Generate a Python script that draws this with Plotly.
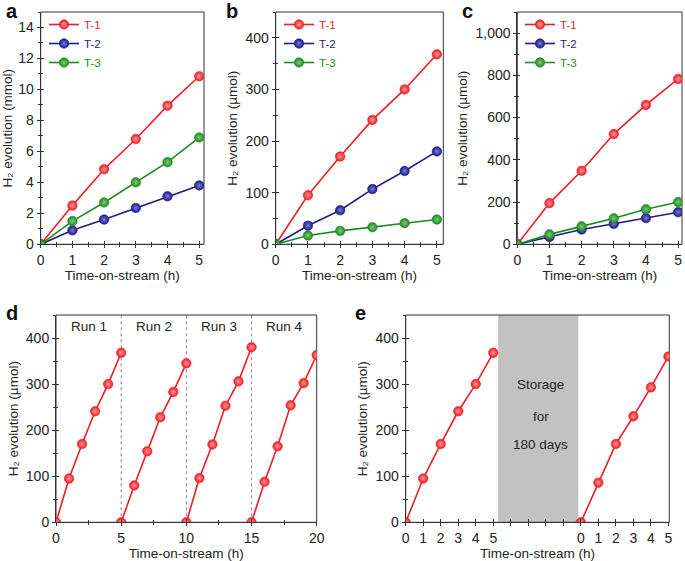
import plotly.graph_objects as go

# ---------------- data ----------------
hours = [0, 1, 2, 3, 4, 5]
series_names = ["T-1", "T-2", "T-3"]
series_colors = ["#ee1c24", "#1c1c8a", "#1e8c1e"]
series_glow = ["#ff9c9c", "#7a7ad6", "#7cc87c"]

a_T1 = [0, 2.5, 4.85, 6.8, 8.95, 10.85]
a_T2 = [0, 0.9, 1.6, 2.35, 3.1, 3.8]
a_T3 = [0, 1.5, 2.7, 4.0, 5.3, 6.9]

b_T1 = [0, 95, 170, 241, 300, 368]
b_T2 = [0, 36, 66, 107, 142, 180]
b_T3 = [0, 17, 26, 33, 41, 48]

c_T1 = [0, 195, 348, 522, 660, 783]
c_T2 = [0, 35, 70, 97, 124, 152]
c_T3 = [0, 47, 85, 123, 166, 200]

run_labels = ["Run 1", "Run 2", "Run 3", "Run 4"]
run_length = 5
d_run1 = [0, 95, 170, 241, 300, 368]
d_run2 = [0, 80, 154, 228, 283, 345]
d_run3 = [0, 96, 169, 253, 306, 380]
d_run4 = [0, 88, 165, 254, 302, 363]

e_before = [0, 95, 170, 241, 300, 368]
e_after = [0, 86, 170, 230, 293, 360]
e_after_offset = 10
e_storage_span = [5.28, 9.86]
e_tickvals = [0, 1, 2, 3, 4, 5, 10, 11, 12, 13, 14, 15]
e_ticktext = ["0", "1", "2", "3", "4", "5", "0", "1", "2", "3", "4", "5"]
storage_text = ["Storage", "for", "180 days"]
storage_text_y = [300, 230, 169]

panel_letters = ["a", "b", "c", "d", "e"]

FONT = "Liberation Sans, Arial, sans-serif"
AX = "#333333"
W, H = 685, 561


def px_x(p):
    return p / W


def px_y(p):
    return 1 - p / H


def xr_(i):
    return "x" if i == 1 else f"x{i}"


def yr_(i):
    return "y" if i == 1 else f"y{i}"


# plot-area pixel boxes (left, right, top, bottom)
boxes = {
    1: (40.7, 204.0, 12.0, 244.3),
    2: (275.7, 443.3, 12.0, 244.3),
    3: (517.3, 682.0, 12.0, 244.3),
    4: (56.0, 316.7, 315.0, 522.3),
    5: (405.7, 669.3, 315.0, 522.3),
}

fig = go.Figure()


def add_series(i, xs, ys, color, glow, name=None, legend=None):
    fig.add_trace(go.Scatter(
        x=xs, y=ys, mode="lines+markers",
        xaxis=xr_(i), yaxis=yr_(i),
        line=dict(color=color, width=1.6),
        marker=dict(size=9.5, color=color,
                    gradient=dict(type="radial", color=glow),
                    line=dict(width=0.6, color=color)),
        name=(f"<span style='color:{color}'>{name}</span>" if name else "s"),
        showlegend=name is not None,
        legend=legend if legend else "legend",
        hoverinfo="x+y",
    ))


# panels a-c
panel_data = {
    1: [a_T1, a_T2, a_T3],
    2: [b_T1, b_T2, b_T3],
    3: [c_T1, c_T2, c_T3],
}
legend_ids = {1: "legend", 2: "legend2", 3: "legend3"}
for i, ser in panel_data.items():
    for k, ys in enumerate(ser):
        add_series(i, hours, ys, series_colors[k], series_glow[k],
                   name=series_names[k], legend=legend_ids[i])

# panel d
for r, ys in enumerate([d_run1, d_run2, d_run3, d_run4]):
    add_series(4, [h + r * run_length for h in hours], ys,
               series_colors[0], series_glow[0])

# panel e
add_series(5, hours, e_before, series_colors[0], series_glow[0])
add_series(5, [h + e_after_offset for h in hours], e_after,
           series_colors[0], series_glow[0])

# ---------------- axes ----------------
YT_MMOL = "H\u2082 evolution (mmol)"
YT_UMOL = "H\u2082 evolution (µmol)"
ax_specs = {
    1: dict(xr=[0, 5.15], xd=1, xm=0.5, yr=[0, 15], yd=2, ym=1,
            ytitle=YT_MMOL, yfmt="", xso=0),
    2: dict(xr=[0, 5.2], xd=1, xm=0.5, yr=[0, 450], yd=100, ym=50,
            ytitle=YT_UMOL, yfmt="", xso=0),
    3: dict(xr=[0, 5.12], xd=1, xm=0.5, yr=[0, 1100], yd=200, ym=100,
            ytitle=YT_UMOL, yfmt=",", xso=0),
    4: dict(xr=[0, 20], xd=5, xm=2.5, yr=[0, 450], yd=100, ym=50,
            ytitle=YT_UMOL, yfmt="", xso=4),
    5: dict(xr=[0, 15.05], xd=1, xm=1, yr=[0, 450], yd=100, ym=50,
            ytitle=YT_UMOL, yfmt="", xso=4),
}

tickfont = dict(family=FONT, size=14, color="#222")
titlefont = dict(family=FONT, size=13.5, color="#222")

layout = {}
for i, s in ax_specs.items():
    l, r, t, b = boxes[i]
    xdom = [px_x(l), px_x(r)]
    ydom = [px_y(b), px_y(t)]
    xa = dict(domain=xdom, range=s["xr"], anchor=yr_(i), automargin=False,
              showline=True, linecolor=AX, linewidth=1,
              ticks="outside", ticklen=3, tickwidth=1, tickcolor=AX,
              dtick=s["xd"], tick0=0, showgrid=False, zeroline=False,
              tickfont=tickfont,
              minor=dict(ticks="outside", ticklen=2, dtick=s["xm"], tick0=0,
                         tickcolor=AX, showgrid=False),
              title=dict(text="Time-on-stream (h)", font=titlefont, standoff=s["xso"]))
    if i == 5:
        xa.update(tickmode="array", tickvals=e_tickvals, ticktext=e_ticktext)
        xa.pop("dtick")
        xa["minor"]["ticklen"] = 3
    ya = dict(domain=ydom, range=s["yr"], anchor=xr_(i), automargin=False,
              showline=True, linecolor=AX, linewidth=1,
              ticks="outside", ticklen=3, tickwidth=1, tickcolor=AX,
              dtick=s["yd"], tick0=0, showgrid=False, zeroline=False,
              tickfont=tickfont, tickformat=s["yfmt"],
              minor=dict(ticks="outside", ticklen=2, dtick=s["ym"], tick0=0,
                         tickcolor=AX, showgrid=False),
              title=dict(text=s["ytitle"], font=titlefont, standoff=4))
    layout[f"xaxis{i}"] = xa
    layout[f"yaxis{i}"] = ya
    # inside half of the crossing ticks
    j = i + 5
    xi = dict(overlaying=xr_(i), anchor=yr_(i), range=s["xr"], side="bottom",
              automargin=False,
              showline=False, ticks="inside", ticklen=3, tickwidth=1, tickcolor=AX,
              showticklabels=False, showgrid=False, zeroline=False, tick0=0,
              dtick=s["xd"])
    if i != 5:
        xi["minor"] = dict(ticks="inside", ticklen=2, dtick=s["xm"], tick0=0,
                           tickcolor=AX, showgrid=False)
    yi = dict(overlaying=yr_(i), anchor=xr_(i), range=s["yr"], side="left",
              automargin=False,
              showline=False, ticks="inside", ticklen=3, tickwidth=1, tickcolor=AX,
              dtick=s["yd"], tick0=0, showticklabels=False, showgrid=False,
              zeroline=False,
              minor=dict(ticks="inside", ticklen=2, dtick=s["ym"], tick0=0,
                         tickcolor=AX, showgrid=False))
    layout[f"xaxis{j}"] = xi
    layout[f"yaxis{j}"] = yi

fig.update_layout(template="none")
fig.update_layout(**layout)

# invisible carrier traces so the overlay tick axes are drawn
for i in range(1, 6):
    j = i + 5
    fig.add_trace(go.Scatter(x=[None], y=[None], xaxis=f"x{j}", yaxis=yr_(i),
                             showlegend=False, hoverinfo="skip"))
    fig.add_trace(go.Scatter(x=[None], y=[None], xaxis=xr_(i), yaxis=f"y{j}",
                             showlegend=False, hoverinfo="skip"))

# ---------------- shapes & annotations ----------------
shapes = []
for r in range(1, len(run_labels)):
    shapes.append(dict(type="line", xref="x4", yref="y4 domain",
                       x0=r * run_length, x1=r * run_length, y0=0, y1=1,
                       line=dict(color="#8a8a8a", width=1, dash="dot"), layer="below"))
shapes.append(dict(type="rect", xref="x5", yref="y5 domain",
                   x0=e_storage_span[0], x1=e_storage_span[1], y0=0, y1=1,
                   fillcolor="#c2c2c2", line=dict(width=0), layer="below"))
# plot frames
for i in range(1, 6):
    shapes.append(dict(type="rect", xref=f"{xr_(i)} domain", yref=f"{yr_(i)} domain",
                       x0=0, x1=1, y0=0, y1=1, fillcolor="rgba(0,0,0,0)",
                       line=dict(color=AX, width=1), layer="below"))

annotations = []
for r, lab in enumerate(run_labels):
    annotations.append(dict(x=r * run_length + run_length / 2, y=425, xref="x4", yref="y4",
                            text=lab, showarrow=False,
                            font=dict(family=FONT, size=13.5, color="#222")))
for txt, yv in zip(storage_text, storage_text_y):
    annotations.append(dict(x=sum(e_storage_span) / 2 + 0.15, y=yv, xref="x5", yref="y5",
                            text=txt, showarrow=False,
                            font=dict(family=FONT, size=13.5, color="#222")))

letter_pos = [(12, 11), (232, 11), (467, 11), (12, 313), (360, 313)]
for letter, (lx, ly) in zip(panel_letters, letter_pos):
    annotations.append(dict(x=px_x(lx), y=px_y(ly), xref="paper", yref="paper",
                            text=f"<b>{letter}</b>", showarrow=False,
                            xanchor="center", yanchor="middle",
                            font=dict(family=FONT, size=20, color="#111")))

legend_common = dict(bgcolor="rgba(0,0,0,0)", borderwidth=0, itemwidth=30,
                     font=dict(family=FONT, size=11.5), xanchor="left", yanchor="top",
                     tracegroupgap=0, itemclick=False, itemdoubleclick=False)
legend_pos = {"legend": (44, 10), "legend2": (279, 10), "legend3": (520, 10)}
for lid, (lx, ly) in legend_pos.items():
    fig.update_layout(**{lid: dict(legend_common, x=px_x(lx), y=px_y(ly))})

fig.update_layout(
    width=W, height=H,
    margin=dict(l=0, r=0, t=0, b=0, autoexpand=False),
    paper_bgcolor="white", plot_bgcolor="white",
    shapes=shapes, annotations=annotations,
    font=dict(family=FONT, color="#222"),
    showlegend=True,
)

fig.write_html(
    "out.html",
    config={"displayModeBar": False},
    post_script="document.body.style.margin='0';document.body.style.overflow='hidden';",
)
